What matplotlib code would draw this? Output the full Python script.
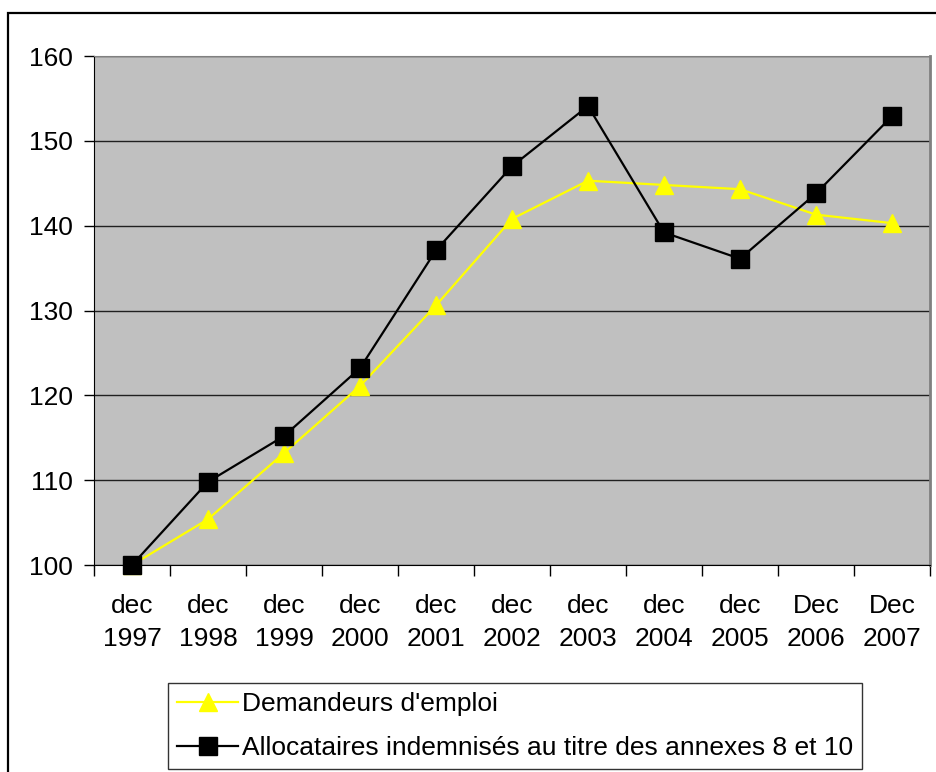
import matplotlib
matplotlib.use("Agg")
import matplotlib.pyplot as plt
from matplotlib.patches import Rectangle

plt.rcParams['font.family'] = ['Liberation Sans', 'DejaVu Sans']

# index base 100 in dec 1997
periods = ["dec\n1997", "dec\n1998", "dec\n1999", "dec\n2000", "dec\n2001", "dec\n2002",
           "dec\n2003", "dec\n2004", "dec\n2005", "Dec\n2006", "Dec\n2007"]
demandeurs = [100, 105.4, 113.2, 121.1, 130.6, 140.8, 145.3, 144.8, 144.3, 141.3, 140.3]
allocataires = [100, 109.8, 115.2, 123.2, 137.1, 147.0, 154.1, 139.2, 136.1, 143.8, 152.9]

fig = plt.figure(figsize=(9.36, 7.72), dpi=100)

# outer chart border (runs off the right and bottom of the page)
fig.patches.append(Rectangle((8/936, -0.05), 1.2, 1 - 13/772 + 0.05, transform=fig.transFigure,
                             fill=False, edgecolor='black', linewidth=1.6, zorder=0))

ax = fig.add_axes([94/936, 207/772, 836/936, 509/772])
ax.set_facecolor('#C0C0C0')
x = list(range(len(periods)))

ax.plot(x, demandeurs, color='#FFFF00', lw=1.6, marker='^', ms=13,
        markeredgecolor='#FFFF00', clip_on=False, zorder=3, label="Demandeurs d'emploi")
ax.plot(x, allocataires, color='black', lw=1.6, marker='s', ms=13,
        clip_on=False, zorder=4, label="Allocataires indemnisés au titre des annexes 8 et 10")

ax.set_xlim(-0.5, len(periods) - 0.5)
ax.set_ylim(100, 160)
ax.set_yticks(range(100, 161, 10))
ax.yaxis.grid(True, color='#202020', lw=1)
ax.set_axisbelow(True)

ax.set_xticks([i + 0.5 for i in range(-1, len(periods))], minor=False)
ax.set_xticklabels([])
ax.set_xticks(x, minor=True)
ax.set_xticklabels(periods, minor=True, linespacing=1.45)
ax.tick_params(axis='x', which='major', length=8, width=1, direction='out', color='black')
ax.tick_params(axis='x', which='minor', length=0, pad=21, labelsize=19)
ax.tick_params(axis='y', length=7, width=1, direction='out', pad=8, labelsize=19)

ax.spines['top'].set_color('#808080')
ax.spines['right'].set_color('#808080')
ax.spines['right'].set_linewidth(2)
ax.spines['left'].set_color('black')
ax.spines['bottom'].set_color('black')

handles, labels = ax.get_legend_handles_labels()
leg = fig.legend(handles, labels, loc='upper left', bbox_to_anchor=(168/936, 1 - 683/772),
                 fontsize=19, frameon=True, fancybox=False, edgecolor='black',
                 handlelength=2.3, handletextpad=0.15, borderpad=0.35, borderaxespad=0,
                 labelspacing=0.75)
leg.get_frame().set_linewidth(1)

fig.savefig('out.png', dpi=100)
